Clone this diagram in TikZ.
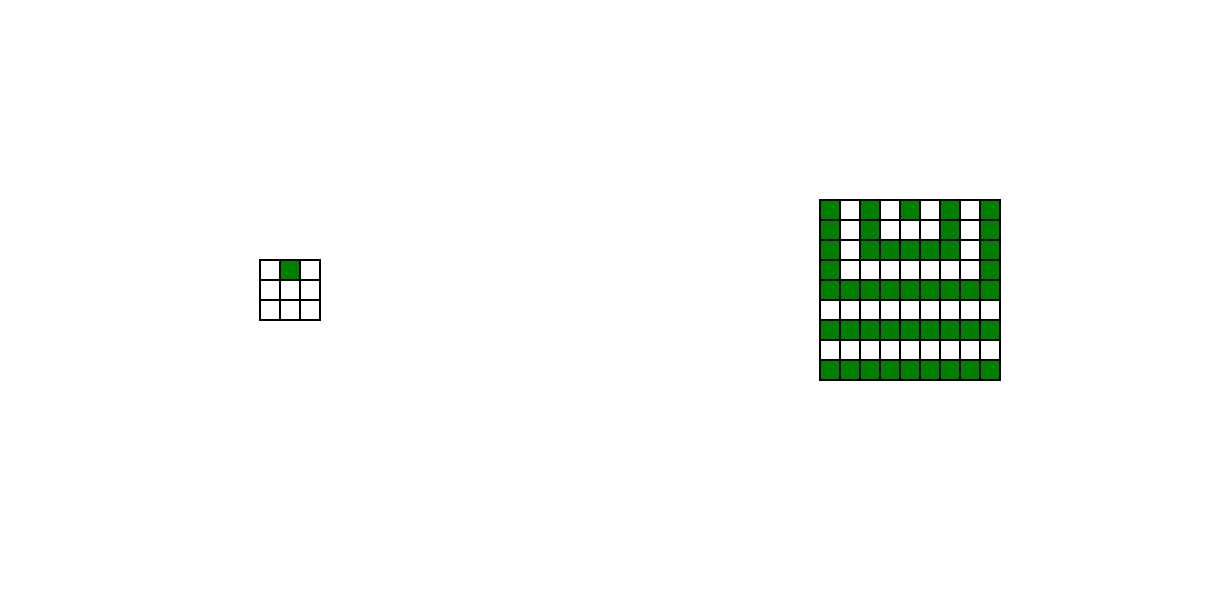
\documentclass[tikz,border=0pt]{standalone}
\usetikzlibrary{positioning}
\definecolor{leaf}{RGB}{0,128,0}
\tikzset{
  cell/.style={draw=black,line width=0.6pt,minimum size=4mm,inner sep=0pt,outer sep=0pt},
  c0/.style={fill=white},
  c1/.style={fill=leaf},
}
\begin{document}
\begin{tikzpicture}
  \useasboundingbox (0,0) rectangle (24.4,-12);
  % small kernel
  \foreach \row [count=\r from 0] in {{0,1,0},{0,0,0},{0,0,0}}{
    \foreach \v [count=\c from 0] in \row
      \node[cell,c\v] (k-\r-\c) at (5.4+0.4*\c,-5.4-0.4*\r) {};
  }
  % big pattern
  \foreach \row [count=\r from 0] in {
      {1,0,1,0,1,0,1,0,1},
      {1,0,1,0,0,0,1,0,1},
      {1,0,1,1,1,1,1,0,1},
      {1,0,0,0,0,0,0,0,1},
      {1,1,1,1,1,1,1,1,1},
      {0,0,0,0,0,0,0,0,0},
      {1,1,1,1,1,1,1,1,1},
      {0,0,0,0,0,0,0,0,0},
      {1,1,1,1,1,1,1,1,1}}{
    \foreach \v [count=\c from 0] in \row
      \node[cell,c\v] (g-\r-\c) at (16.6+0.4*\c,-4.2-0.4*\r) {};
  }
\end{tikzpicture}
\end{document}
